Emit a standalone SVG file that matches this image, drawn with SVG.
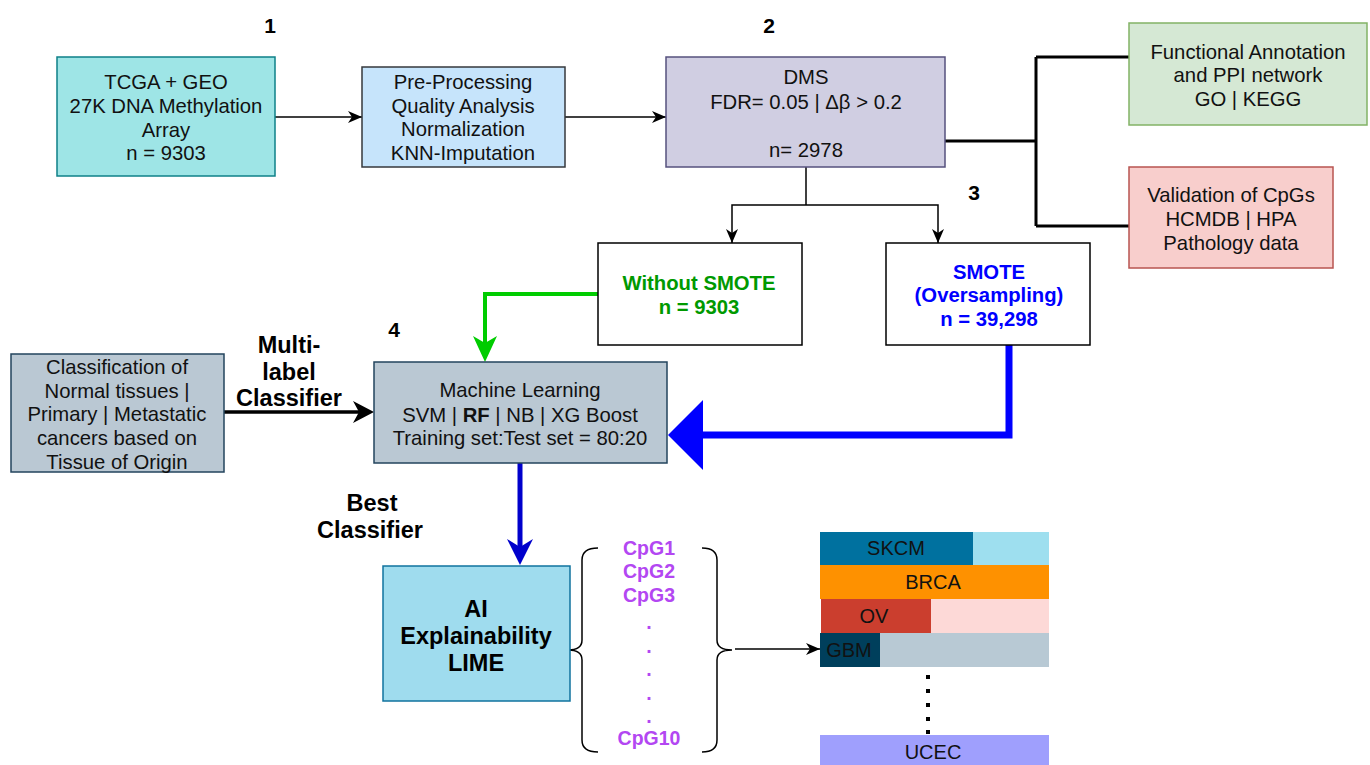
<svg xmlns="http://www.w3.org/2000/svg" width="1370" height="765" viewBox="0 0 1370 765">
  <defs>
    <marker id="arrowThin" viewBox="0 0 14 12" refX="14" refY="6" markerWidth="14" markerHeight="12" markerUnits="userSpaceOnUse" orient="auto">
      <path d="M0,0 L14,6 L0,12 L4,6 z" fill="#000"/>
    </marker>
    <style>
      .t { font-family: "Liberation Sans", Arial, sans-serif; font-size: 20.3px; fill: #111; text-anchor: middle; }
      .b { font-weight: bold; }
      .lbl { font-family: "Liberation Sans", Arial, sans-serif; font-size: 23.5px; font-weight: bold; fill: #000; text-anchor: middle; }
      .num { font-family: "Liberation Sans", Arial, sans-serif; font-size: 21px; font-weight: bold; fill: #000; text-anchor: middle; }
      .cpg { font-family: "Liberation Sans", Arial, sans-serif; font-size: 19.5px; font-weight: bold; fill: #b347f2; text-anchor: middle; }
      .bar { font-family: "Liberation Sans", Arial, sans-serif; font-size: 20px; fill: #111; text-anchor: middle; }
      .thin { fill: none; stroke: #000; stroke-width: 1.5; }
    </style>
  </defs>

  <!-- step numbers -->
  <g id="step-numbers">
    <text class="num" x="270" y="33">1</text>
    <text class="num" x="769" y="33">2</text>
    <text class="num" x="974" y="200">3</text>
    <text class="num" x="394" y="337">4</text>
  </g>

  <!-- connectors -->
  <g id="connectors">
    <line class="thin" x1="275" y1="117" x2="362" y2="117" marker-end="url(#arrowThin)"/>
    <line class="thin" x1="565" y1="117" x2="666" y2="117" marker-end="url(#arrowThin)"/>
    <!-- DMS to annotation / validation -->
    <path d="M945,141 L1036,141 M1036,57 L1036,226 M1036,57 L1129,57 M1036,226 L1129,226" fill="none" stroke="#000" stroke-width="3"/>
    <!-- DMS split -->
    <path class="thin" d="M806,167 L806,205"/>
    <path class="thin" d="M806,205 L732,205 L732,243" marker-end="url(#arrowThin)"/>
    <path class="thin" d="M806,205 L938,205 L938,243" marker-end="url(#arrowThin)"/>
    <!-- without SMOTE to ML -->
    <path d="M598,294 L485,294 L485,345" fill="none" stroke="#00cc00" stroke-width="4"/>
    <path d="M485,362 L473,336 L485,343 L497,336 z" fill="#00cc00"/>
    <!-- SMOTE to ML -->
    <path d="M1009,345 L1009,435 L700,435" fill="none" stroke="#0000ff" stroke-width="7"/>
    <path d="M668,435 L703,400 L703,470 z" fill="#0000ff"/>
    <!-- classification to ML -->
    <line x1="224" y1="412" x2="362" y2="412" stroke="#000" stroke-width="3.5"/>
    <path d="M374,412 L353,401 L359,412 L353,423 z" fill="#000"/>
    <!-- ML to LIME -->
    <line x1="520" y1="463" x2="520" y2="548" stroke="#0000cc" stroke-width="5"/>
    <path d="M520,565 L507,539 L520,547 L533,539 z" fill="#0000cc"/>
    <!-- braces -->
    <path class="thin" d="M598,548 Q582,548 582,560 L582,640 Q582,650 568,650 Q582,650 582,660 L582,740 Q582,752 598,752"/>
    <path class="thin" d="M702,548 Q717,548 717,560 L717,640 Q717,650 732,650 Q717,650 717,660 L717,740 Q717,752 702,752"/>
    <line class="thin" x1="735" y1="649" x2="820" y2="649" marker-end="url(#arrowThin)"/>
  </g>

  <!-- nodes -->
  <g id="node-tcga">
    <rect x="57" y="57" width="218" height="119" fill="#9ee5e6" stroke="#0e8088" stroke-width="1.5"/>
    <text class="t" x="166" y="89">TCGA + GEO</text>
    <text class="t" x="166" y="113">27K DNA Methylation</text>
    <text class="t" x="166" y="137">Array</text>
    <text class="t" x="166" y="160">n = 9303</text>
  </g>

  <g id="node-preprocessing">
    <rect x="362" y="67" width="203" height="100" fill="#c6e4fb" stroke="#36393d" stroke-width="1.5"/>
    <text class="t" x="463" y="89">Pre-Processing</text>
    <text class="t" x="463" y="113">Quality Analysis</text>
    <text class="t" x="463" y="136">Normalization</text>
    <text class="t" x="463" y="160">KNN-Imputation</text>
  </g>

  <g id="node-dms">
    <rect x="666" y="57" width="279" height="110" fill="#d0cee2" stroke="#56517e" stroke-width="1.5"/>
    <text class="t" x="806" y="84">DMS</text>
    <text class="t" x="806" y="109">FDR= 0.05 | Δβ &gt; 0.2</text>
    <text class="t" x="806" y="157">n= 2978</text>
  </g>

  <g id="node-annotation">
    <rect x="1129" y="23" width="238" height="102" fill="#d5e8d4" stroke="#82b366" stroke-width="1.5"/>
    <text class="t" x="1248" y="59">Functional Annotation</text>
    <text class="t" x="1248" y="82">and PPI network</text>
    <text class="t" x="1248" y="106">GO | KEGG</text>
  </g>

  <g id="node-validation">
    <rect x="1129" y="167" width="204" height="101" fill="#f8cecc" stroke="#b85450" stroke-width="1.5"/>
    <text class="t" x="1231" y="202">Validation of CpGs</text>
    <text class="t" x="1231" y="226">HCMDB | HPA</text>
    <text class="t" x="1231" y="250">Pathology data</text>
  </g>

  <g id="node-without-smote">
    <rect x="598" y="243" width="204" height="102" fill="#fff" stroke="#000" stroke-width="1.5"/>
    <text class="t b" x="699" y="290" style="fill:#009900">Without SMOTE</text>
    <text class="t b" x="699" y="314" style="fill:#009900">n = 9303</text>
  </g>

  <g id="node-smote">
    <rect x="886" y="243" width="204" height="102" fill="#fff" stroke="#000" stroke-width="1.5"/>
    <text class="t b" x="989" y="279" style="fill:#0000ff">SMOTE</text>
    <text class="t b" x="989" y="302" style="fill:#0000ff">(Oversampling)</text>
    <text class="t b" x="989" y="326" style="fill:#0000ff">n = 39,298</text>
  </g>

  <g id="node-classification">
    <rect x="11" y="354" width="213" height="118" fill="#bac8d3" stroke="#23445d" stroke-width="1.5"/>
    <text class="t" x="117" y="374">Classification of</text>
    <text class="t" x="117" y="398">Normal tissues |</text>
    <text class="t" x="117" y="421">Primary | Metastatic</text>
    <text class="t" x="117" y="445">cancers based on</text>
    <text class="t" x="117" y="469">Tissue of Origin</text>
  </g>

  <g id="label-multilabel">
    <text class="lbl" x="289" y="353">Multi-</text>
    <text class="lbl" x="289" y="380">label</text>
    <text class="lbl" x="289" y="406">Classifier</text>
  </g>

  <g id="node-ml">
    <rect x="374" y="362" width="293" height="101" fill="#bac8d3" stroke="#23445d" stroke-width="1.5"/>
    <text class="t" x="520" y="397">Machine Learning</text>
    <text class="t" x="520" y="422">SVM | <tspan font-weight="bold">RF</tspan> | NB | XG Boost</text>
    <text class="t" x="520" y="445">Training set:Test set = 80:20</text>
  </g>

  <g id="label-best">
    <text class="lbl" x="372" y="511">Best</text>
    <text class="lbl" x="370" y="538">Classifier</text>
  </g>

  <g id="node-lime">
    <rect x="383" y="566" width="187" height="135" fill="#9fdcee" stroke="#10739e" stroke-width="1.5"/>
    <text class="lbl" x="476" y="617">AI</text>
    <text class="lbl" x="476" y="644">Explainability</text>
    <text class="lbl" x="476" y="671">LIME</text>
  </g>

  <g id="node-cpgs">
    <text class="cpg" x="649" y="555">CpG1</text>
    <text class="cpg" x="649" y="578">CpG2</text>
    <text class="cpg" x="649" y="602">CpG3</text>
    <text class="cpg" x="649" y="629">.</text>
    <text class="cpg" x="649" y="653">.</text>
    <text class="cpg" x="649" y="676">.</text>
    <text class="cpg" x="649" y="700">.</text>
    <text class="cpg" x="649" y="723">.</text>
    <text class="cpg" x="649" y="745">CpG10</text>
  </g>

  <g id="node-tissues">
    <rect x="820" y="532" width="153" height="33" fill="#00719f"/>
    <rect x="973" y="532" width="76" height="33" fill="#9edfef"/>
    <text class="bar" x="896" y="555">SKCM</text>
    <rect x="820" y="565" width="229" height="34" fill="#fe9100"/>
    <text class="bar" x="933" y="589">BRCA</text>
    <rect x="821" y="599" width="110" height="34" fill="#cb3e2e"/>
    <rect x="931" y="599" width="118" height="34" fill="#fdd9d7"/>
    <text class="bar" x="874" y="623">OV</text>
    <rect x="820" y="633" width="60" height="34" fill="#003f5c"/>
    <rect x="880" y="633" width="169" height="34" fill="#b8c9d4"/>
    <text class="bar" x="849" y="657">GBM</text>
    <g fill="#000">
      <rect x="926" y="675" width="4" height="4"/>
      <rect x="926" y="689" width="4" height="4"/>
      <rect x="926" y="703" width="4" height="4"/>
      <rect x="926" y="717" width="4" height="4"/>
      <rect x="926" y="730" width="4" height="4"/>
    </g>
    <rect x="820" y="735" width="229" height="30" fill="#9f9ffd"/>
    <text class="bar" x="933" y="759">UCEC</text>
  </g>
</svg>
